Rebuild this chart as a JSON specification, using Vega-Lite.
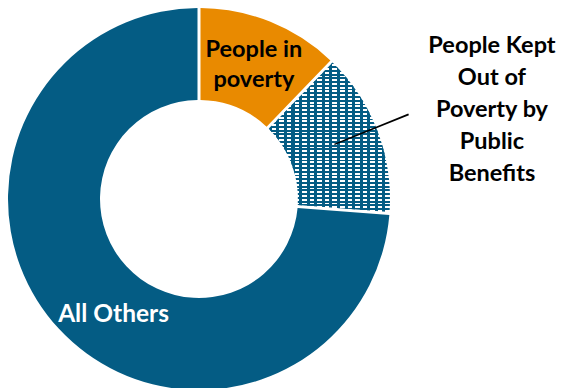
{
  "$schema": "https://vega.github.io/schema/vega-lite/v6.json",
  "width": 398,
  "height": 378,
  "autosize": {"type": "none"},
  "padding": {"left": 0, "top": 10, "right": 163, "bottom": 0},
  "background": "white",
  "config": {"view": {"stroke": null}},
  "data": {"values": [
    {"category": "People in poverty", "label": "People in\npoverty", "share": 12.2, "seq": 1},
    {"category": "People Kept Out of Poverty by Public Benefits", "label": "People Kept\nOut of\nPoverty by\nPublic\nBenefits", "share": 14.0, "seq": 2},
    {"category": "All Others", "label": "All Others", "share": 73.8, "seq": 3}
  ]},
  "layer": [
    {
      "mark": {"type": "arc", "outerRadius": 191, "innerRadius": 99, "padAngle": 0.014},
      "encoding": {
        "theta": {"field": "share", "type": "quantitative", "stack": true},
        "order": {"field": "seq", "type": "quantitative"},
        "detail": {"field": "category", "type": "nominal"},
        "fill": {
          "condition": {"test": "datum.category === 'People Kept Out of Poverty by Public Benefits'", "value": {
            "gradient": "linear", "x1": 0, "y1": 0, "x2": 0, "y2": 1,
            "stops": [
              {"offset": 0, "color": "#045C84"}, {"offset": 0.0125, "color": "#045C84"}, {"offset": 0.0125, "color": "#FFFFFF"}, {"offset": 0.025, "color": "#FFFFFF"},
              {"offset": 0.025, "color": "#045C84"}, {"offset": 0.0375, "color": "#045C84"}, {"offset": 0.0375, "color": "#FFFFFF"}, {"offset": 0.05, "color": "#FFFFFF"},
              {"offset": 0.05, "color": "#045C84"}, {"offset": 0.0625, "color": "#045C84"}, {"offset": 0.0625, "color": "#FFFFFF"}, {"offset": 0.075, "color": "#FFFFFF"},
              {"offset": 0.075, "color": "#045C84"}, {"offset": 0.0875, "color": "#045C84"}, {"offset": 0.0875, "color": "#FFFFFF"}, {"offset": 0.1, "color": "#FFFFFF"},
              {"offset": 0.1, "color": "#045C84"}, {"offset": 0.1125, "color": "#045C84"}, {"offset": 0.1125, "color": "#FFFFFF"}, {"offset": 0.125, "color": "#FFFFFF"},
              {"offset": 0.125, "color": "#045C84"}, {"offset": 0.1375, "color": "#045C84"}, {"offset": 0.1375, "color": "#FFFFFF"}, {"offset": 0.15, "color": "#FFFFFF"},
              {"offset": 0.15, "color": "#045C84"}, {"offset": 0.1625, "color": "#045C84"}, {"offset": 0.1625, "color": "#FFFFFF"}, {"offset": 0.175, "color": "#FFFFFF"},
              {"offset": 0.175, "color": "#045C84"}, {"offset": 0.1875, "color": "#045C84"}, {"offset": 0.1875, "color": "#FFFFFF"}, {"offset": 0.2, "color": "#FFFFFF"},
              {"offset": 0.2, "color": "#045C84"}, {"offset": 0.2125, "color": "#045C84"}, {"offset": 0.2125, "color": "#FFFFFF"}, {"offset": 0.225, "color": "#FFFFFF"},
              {"offset": 0.225, "color": "#045C84"}, {"offset": 0.2375, "color": "#045C84"}, {"offset": 0.2375, "color": "#FFFFFF"}, {"offset": 0.25, "color": "#FFFFFF"},
              {"offset": 0.25, "color": "#045C84"}, {"offset": 0.2625, "color": "#045C84"}, {"offset": 0.2625, "color": "#FFFFFF"}, {"offset": 0.275, "color": "#FFFFFF"},
              {"offset": 0.275, "color": "#045C84"}, {"offset": 0.2875, "color": "#045C84"}, {"offset": 0.2875, "color": "#FFFFFF"}, {"offset": 0.3, "color": "#FFFFFF"},
              {"offset": 0.3, "color": "#045C84"}, {"offset": 0.3125, "color": "#045C84"}, {"offset": 0.3125, "color": "#FFFFFF"}, {"offset": 0.325, "color": "#FFFFFF"},
              {"offset": 0.325, "color": "#045C84"}, {"offset": 0.3375, "color": "#045C84"}, {"offset": 0.3375, "color": "#FFFFFF"}, {"offset": 0.35, "color": "#FFFFFF"},
              {"offset": 0.35, "color": "#045C84"}, {"offset": 0.3625, "color": "#045C84"}, {"offset": 0.3625, "color": "#FFFFFF"}, {"offset": 0.375, "color": "#FFFFFF"},
              {"offset": 0.375, "color": "#045C84"}, {"offset": 0.3875, "color": "#045C84"}, {"offset": 0.3875, "color": "#FFFFFF"}, {"offset": 0.4, "color": "#FFFFFF"},
              {"offset": 0.4, "color": "#045C84"}, {"offset": 0.4125, "color": "#045C84"}, {"offset": 0.4125, "color": "#FFFFFF"}, {"offset": 0.425, "color": "#FFFFFF"},
              {"offset": 0.425, "color": "#045C84"}, {"offset": 0.4375, "color": "#045C84"}, {"offset": 0.4375, "color": "#FFFFFF"}, {"offset": 0.45, "color": "#FFFFFF"},
              {"offset": 0.45, "color": "#045C84"}, {"offset": 0.4625, "color": "#045C84"}, {"offset": 0.4625, "color": "#FFFFFF"}, {"offset": 0.475, "color": "#FFFFFF"},
              {"offset": 0.475, "color": "#045C84"}, {"offset": 0.4875, "color": "#045C84"}, {"offset": 0.4875, "color": "#FFFFFF"}, {"offset": 0.5, "color": "#FFFFFF"},
              {"offset": 0.5, "color": "#045C84"}, {"offset": 0.5125, "color": "#045C84"}, {"offset": 0.5125, "color": "#FFFFFF"}, {"offset": 0.525, "color": "#FFFFFF"},
              {"offset": 0.525, "color": "#045C84"}, {"offset": 0.5375, "color": "#045C84"}, {"offset": 0.5375, "color": "#FFFFFF"}, {"offset": 0.55, "color": "#FFFFFF"},
              {"offset": 0.55, "color": "#045C84"}, {"offset": 0.5625, "color": "#045C84"}, {"offset": 0.5625, "color": "#FFFFFF"}, {"offset": 0.575, "color": "#FFFFFF"},
              {"offset": 0.575, "color": "#045C84"}, {"offset": 0.5875, "color": "#045C84"}, {"offset": 0.5875, "color": "#FFFFFF"}, {"offset": 0.6, "color": "#FFFFFF"},
              {"offset": 0.6, "color": "#045C84"}, {"offset": 0.6125, "color": "#045C84"}, {"offset": 0.6125, "color": "#FFFFFF"}, {"offset": 0.625, "color": "#FFFFFF"},
              {"offset": 0.625, "color": "#045C84"}, {"offset": 0.6375, "color": "#045C84"}, {"offset": 0.6375, "color": "#FFFFFF"}, {"offset": 0.65, "color": "#FFFFFF"},
              {"offset": 0.65, "color": "#045C84"}, {"offset": 0.6625, "color": "#045C84"}, {"offset": 0.6625, "color": "#FFFFFF"}, {"offset": 0.675, "color": "#FFFFFF"},
              {"offset": 0.675, "color": "#045C84"}, {"offset": 0.6875, "color": "#045C84"}, {"offset": 0.6875, "color": "#FFFFFF"}, {"offset": 0.7, "color": "#FFFFFF"},
              {"offset": 0.7, "color": "#045C84"}, {"offset": 0.7125, "color": "#045C84"}, {"offset": 0.7125, "color": "#FFFFFF"}, {"offset": 0.725, "color": "#FFFFFF"},
              {"offset": 0.725, "color": "#045C84"}, {"offset": 0.7375, "color": "#045C84"}, {"offset": 0.7375, "color": "#FFFFFF"}, {"offset": 0.75, "color": "#FFFFFF"},
              {"offset": 0.75, "color": "#045C84"}, {"offset": 0.7625, "color": "#045C84"}, {"offset": 0.7625, "color": "#FFFFFF"}, {"offset": 0.775, "color": "#FFFFFF"},
              {"offset": 0.775, "color": "#045C84"}, {"offset": 0.7875, "color": "#045C84"}, {"offset": 0.7875, "color": "#FFFFFF"}, {"offset": 0.8, "color": "#FFFFFF"},
              {"offset": 0.8, "color": "#045C84"}, {"offset": 0.8125, "color": "#045C84"}, {"offset": 0.8125, "color": "#FFFFFF"}, {"offset": 0.825, "color": "#FFFFFF"},
              {"offset": 0.825, "color": "#045C84"}, {"offset": 0.8375, "color": "#045C84"}, {"offset": 0.8375, "color": "#FFFFFF"}, {"offset": 0.85, "color": "#FFFFFF"},
              {"offset": 0.85, "color": "#045C84"}, {"offset": 0.8625, "color": "#045C84"}, {"offset": 0.8625, "color": "#FFFFFF"}, {"offset": 0.875, "color": "#FFFFFF"},
              {"offset": 0.875, "color": "#045C84"}, {"offset": 0.8875, "color": "#045C84"}, {"offset": 0.8875, "color": "#FFFFFF"}, {"offset": 0.9, "color": "#FFFFFF"},
              {"offset": 0.9, "color": "#045C84"}, {"offset": 0.9125, "color": "#045C84"}, {"offset": 0.9125, "color": "#FFFFFF"}, {"offset": 0.925, "color": "#FFFFFF"},
              {"offset": 0.925, "color": "#045C84"}, {"offset": 0.9375, "color": "#045C84"}, {"offset": 0.9375, "color": "#FFFFFF"}, {"offset": 0.95, "color": "#FFFFFF"},
              {"offset": 0.95, "color": "#045C84"}, {"offset": 0.9625, "color": "#045C84"}, {"offset": 0.9625, "color": "#FFFFFF"}, {"offset": 0.975, "color": "#FFFFFF"},
              {"offset": 0.975, "color": "#045C84"}, {"offset": 0.9875, "color": "#045C84"}, {"offset": 0.9875, "color": "#FFFFFF"}, {"offset": 1, "color": "#FFFFFF"}
            ]}},
          "field": "category", "type": "nominal",
          "scale": {"domain": ["People in poverty", "People Kept Out of Poverty by Public Benefits", "All Others"], "range": ["#E98A00", "#045C84", "#045C84"]},
          "legend": null
        }
      }
    },
    {
      "mark": {"type": "arc", "outerRadius": 191, "innerRadius": 99, "padAngle": 0.014},
      "encoding": {
        "theta": {"field": "share", "type": "quantitative", "stack": true},
        "order": {"field": "seq", "type": "quantitative"},
        "detail": {"field": "category", "type": "nominal"},
        "fill": {
          "condition": {"test": "datum.category === 'People Kept Out of Poverty by Public Benefits'", "value": {
            "gradient": "linear", "x1": 0, "y1": 0, "x2": 1, "y2": 0,
            "stops": [
              {"offset": 0, "color": "#045C84"}, {"offset": 0.025, "color": "#045C84"}, {"offset": 0.025, "color": "rgba(4,92,132,0)"}, {"offset": 0.0625, "color": "rgba(4,92,132,0)"},
              {"offset": 0.0625, "color": "#045C84"}, {"offset": 0.0875, "color": "#045C84"}, {"offset": 0.0875, "color": "rgba(4,92,132,0)"}, {"offset": 0.125, "color": "rgba(4,92,132,0)"},
              {"offset": 0.125, "color": "#045C84"}, {"offset": 0.15, "color": "#045C84"}, {"offset": 0.15, "color": "rgba(4,92,132,0)"}, {"offset": 0.1875, "color": "rgba(4,92,132,0)"},
              {"offset": 0.1875, "color": "#045C84"}, {"offset": 0.2125, "color": "#045C84"}, {"offset": 0.2125, "color": "rgba(4,92,132,0)"}, {"offset": 0.25, "color": "rgba(4,92,132,0)"},
              {"offset": 0.25, "color": "#045C84"}, {"offset": 0.275, "color": "#045C84"}, {"offset": 0.275, "color": "rgba(4,92,132,0)"}, {"offset": 0.3125, "color": "rgba(4,92,132,0)"},
              {"offset": 0.3125, "color": "#045C84"}, {"offset": 0.3375, "color": "#045C84"}, {"offset": 0.3375, "color": "rgba(4,92,132,0)"}, {"offset": 0.375, "color": "rgba(4,92,132,0)"},
              {"offset": 0.375, "color": "#045C84"}, {"offset": 0.4, "color": "#045C84"}, {"offset": 0.4, "color": "rgba(4,92,132,0)"}, {"offset": 0.4375, "color": "rgba(4,92,132,0)"},
              {"offset": 0.4375, "color": "#045C84"}, {"offset": 0.4625, "color": "#045C84"}, {"offset": 0.4625, "color": "rgba(4,92,132,0)"}, {"offset": 0.5, "color": "rgba(4,92,132,0)"},
              {"offset": 0.5, "color": "#045C84"}, {"offset": 0.525, "color": "#045C84"}, {"offset": 0.525, "color": "rgba(4,92,132,0)"}, {"offset": 0.5625, "color": "rgba(4,92,132,0)"},
              {"offset": 0.5625, "color": "#045C84"}, {"offset": 0.5875, "color": "#045C84"}, {"offset": 0.5875, "color": "rgba(4,92,132,0)"}, {"offset": 0.625, "color": "rgba(4,92,132,0)"},
              {"offset": 0.625, "color": "#045C84"}, {"offset": 0.65, "color": "#045C84"}, {"offset": 0.65, "color": "rgba(4,92,132,0)"}, {"offset": 0.6875, "color": "rgba(4,92,132,0)"},
              {"offset": 0.6875, "color": "#045C84"}, {"offset": 0.7125, "color": "#045C84"}, {"offset": 0.7125, "color": "rgba(4,92,132,0)"}, {"offset": 0.75, "color": "rgba(4,92,132,0)"},
              {"offset": 0.75, "color": "#045C84"}, {"offset": 0.775, "color": "#045C84"}, {"offset": 0.775, "color": "rgba(4,92,132,0)"}, {"offset": 0.8125, "color": "rgba(4,92,132,0)"},
              {"offset": 0.8125, "color": "#045C84"}, {"offset": 0.8375, "color": "#045C84"}, {"offset": 0.8375, "color": "rgba(4,92,132,0)"}, {"offset": 0.875, "color": "rgba(4,92,132,0)"},
              {"offset": 0.875, "color": "#045C84"}, {"offset": 0.9, "color": "#045C84"}, {"offset": 0.9, "color": "rgba(4,92,132,0)"}, {"offset": 0.9375, "color": "rgba(4,92,132,0)"},
              {"offset": 0.9375, "color": "#045C84"}, {"offset": 0.9625, "color": "#045C84"}, {"offset": 0.9625, "color": "rgba(4,92,132,0)"}, {"offset": 1, "color": "rgba(4,92,132,0)"}
            ]}},
          "value": "rgba(0,0,0,0)"
        }
      }
    },
    {
      "data": {"values": [{"note": "leader"}]},
      "mark": {"type": "arc", "theta": 1.1833, "theta2": 1.1915, "radius": 226, "radius2": 146, "fill": "black"},
      "encoding": {}
    },
    {
      "mark": {"type": "text", "radius": 158.8, "thetaOffset": -0.0304, "font": "Lato", "fontWeight": "bold", "fontSize": 23.5, "lineHeight": 30, "lineBreak": "\n", "align": "center", "baseline": "middle", "color": "#000000"},
      "encoding": {
        "theta": {"field": "share", "type": "quantitative", "stack": true},
        "order": {"field": "seq", "type": "quantitative"},
        "detail": {"field": "category", "type": "nominal"},
        "text": {"condition": {"test": "datum.category === 'People in poverty'", "field": "label"}, "value": ""}
      }
    },
    {
      "mark": {"type": "text", "radius": 330.5, "thetaOffset": -0.1168, "font": "Lato", "fontWeight": "bold", "fontSize": 23.5, "lineHeight": 32, "lineBreak": "\n", "align": "center", "baseline": "middle", "color": "#000000"},
      "encoding": {
        "theta": {"field": "share", "type": "quantitative", "stack": true},
        "order": {"field": "seq", "type": "quantitative"},
        "detail": {"field": "category", "type": "nominal"},
        "text": {"condition": {"test": "datum.category === 'People Kept Out of Poverty by Public Benefits'", "field": "label"}, "value": ""}
      }
    },
    {
      "mark": {"type": "text", "radius": 144, "thetaOffset": -0.1876, "font": "Lato", "fontWeight": "bold", "fontSize": 24.5, "align": "center", "baseline": "middle", "color": "#FFFFFF"},
      "encoding": {
        "theta": {"field": "share", "type": "quantitative", "stack": true},
        "order": {"field": "seq", "type": "quantitative"},
        "detail": {"field": "category", "type": "nominal"},
        "text": {"condition": {"test": "datum.category === 'All Others'", "field": "label"}, "value": ""}
      }
    }
  ]
}
